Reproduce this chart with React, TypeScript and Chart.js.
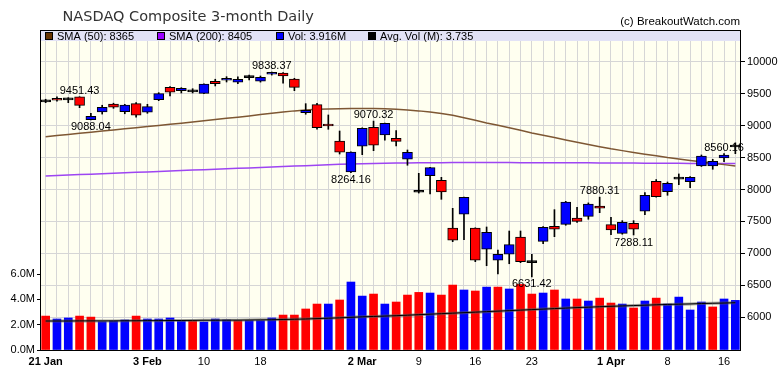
import React, { useEffect, useRef } from 'react';
import { Chart, registerables } from 'chart.js';

Chart.register(...registerables);

const dates = [
  '2020-01-21', '2020-01-22', '2020-01-23', '2020-01-24', '2020-01-27', '2020-01-28', '2020-01-29', '2020-01-30', '2020-01-31',
  '2020-02-03', '2020-02-04', '2020-02-05', '2020-02-06', '2020-02-07', '2020-02-10', '2020-02-11', '2020-02-12', '2020-02-13', '2020-02-14',
  '2020-02-18', '2020-02-19', '2020-02-20', '2020-02-21', '2020-02-24', '2020-02-25', '2020-02-26', '2020-02-27', '2020-02-28',
  '2020-03-02', '2020-03-03', '2020-03-04', '2020-03-05', '2020-03-06', '2020-03-09', '2020-03-10', '2020-03-11', '2020-03-12', '2020-03-13',
  '2020-03-16', '2020-03-17', '2020-03-18', '2020-03-19', '2020-03-20', '2020-03-23', '2020-03-24', '2020-03-25', '2020-03-26', '2020-03-27',
  '2020-03-30', '2020-03-31', '2020-04-01', '2020-04-02', '2020-04-03', '2020-04-06', '2020-04-07', '2020-04-08', '2020-04-09',
  '2020-04-13', '2020-04-14', '2020-04-15', '2020-04-16', '2020-04-17',
];

const opens = [9375, 9427, 9405, 9448, 9092, 9213, 9335, 9218, 9343, 9208, 9405, 9599, 9546, 9532, 9505, 9693, 9709, 9678, 9753, 9693, 9803, 9823, 9729, 9202, 9327, 9025, 8759, 8274, 8676, 8973, 8853, 8801, 8473, 7962, 8216, 8144, 7397, 7612, 7397, 7064, 6892, 6986, 7257, 6862, 7189, 7424, 7455, 7554, 7580, 7742, 7449, 7314, 7471, 7659, 8128, 7966, 8168, 8122, 8368, 8368, 8493, 8668];
const highs = [9412, 9448, 9437, 9451.43, 9190, 9318, 9350, 9333, 9358, 9333, 9515, 9609, 9593, 9577, 9655, 9725, 9765, 9761, 9790, 9776, 9838.37, 9830, 9740, 9343, 9349, 9166, 8915, 8590, 8965, 9070.32, 9040, 8920, 8618, 8253, 8345, 8190, 7705, 7880, 7400, 7413, 7050, 7350, 7350, 6986, 7420, 7684, 7815, 7722, 7790, 7880.31, 7565, 7512, 7512, 7950, 8155, 8117, 8243, 8200, 8540, 8472, 8560.16, 8730];
const lows = [9358, 9380, 9358, 9280, 9088.04, 9180, 9270, 9185, 9130, 9192, 9390, 9463, 9510, 9510, 9500, 9620, 9682, 9656, 9714, 9680, 9790, 9662, 9546, 9177, 8942, 8942, 8555, 8264.16, 8545, 8607, 8770, 8681, 8379, 7944, 7930, 7846, 7183, 7214, 6870, 6807, 6680, 6838, 6855, 6631.42, 7150, 7261, 7440, 7486, 7534, 7637, 7293, 7300, 7288.11, 7606, 7880, 7909, 8075, 8028, 8360, 8316, 8435, 8560];
const closes = [9371, 9396, 9402, 9315, 9145, 9285, 9288, 9322, 9161, 9296, 9499, 9521, 9584, 9528, 9651, 9656, 9740, 9725, 9750, 9756, 9834, 9776, 9599, 9239, 8967, 8994, 8582, 8585, 8958, 8692, 9036, 8754, 8582, 7956, 8341, 7961, 7205, 7878, 6892, 7330, 6986, 7136, 6870, 6855, 7408, 7377, 7804, 7502, 7773, 7706, 7366, 7486, 7377, 7909, 7887, 8097, 8162, 8191, 8524, 8441, 8540, 8665];
const prevClose = 9388.97;

// volume in millions
const volumes = [2.68, 2.45, 2.53, 2.68, 2.60, 2.24, 2.29, 2.37, 2.68, 2.45, 2.45, 2.53, 2.32, 2.32, 2.21, 2.45, 2.37, 2.32, 2.32, 2.32, 2.53, 2.76, 2.76, 3.24, 3.63, 3.63, 3.95, 5.37, 4.26, 4.42, 3.63, 3.79, 4.34, 4.55, 4.50, 4.34, 5.13, 4.74, 4.66, 4.97, 4.97, 4.82, 5.18, 4.42, 4.50, 4.74, 4.03, 4.03, 3.87, 4.10, 3.71, 3.63, 3.32, 3.87, 4.10, 3.63, 4.18, 3.16, 3.79, 3.40, 4.03, 3.92];
const avgVolume = [2.29, 2.29, 2.29, 2.30, 2.30, 2.30, 2.30, 2.31, 2.31, 2.32, 2.32, 2.33, 2.33, 2.34, 2.35, 2.35, 2.36, 2.36, 2.37, 2.38, 2.39, 2.41, 2.43, 2.45, 2.48, 2.51, 2.54, 2.58, 2.62, 2.65, 2.68, 2.71, 2.75, 2.79, 2.83, 2.87, 2.91, 2.95, 2.99, 3.03, 3.07, 3.11, 3.15, 3.19, 3.23, 3.27, 3.31, 3.35, 3.38, 3.42, 3.45, 3.48, 3.51, 3.54, 3.57, 3.60, 3.62, 3.64, 3.67, 3.69, 3.71, 3.735];
const sma50 = [8826, 8843, 8861, 8879, 8896, 8914, 8931, 8949, 8966, 8984, 9002, 9020, 9038, 9056, 9075, 9094, 9113, 9132, 9151, 9172, 9193, 9212, 9230, 9244, 9254, 9260, 9264, 9266, 9267, 9266, 9262, 9254, 9243, 9230, 9212, 9188, 9161, 9123, 9083, 9040, 9005, 8966, 8927, 8885, 8848, 8812, 8775, 8740, 8705, 8670, 8636, 8608, 8580, 8553, 8526, 8499, 8477, 8455, 8433, 8411, 8389, 8368];
const sma200 = [8212, 8219, 8226, 8233, 8240, 8247, 8254, 8261, 8268, 8275, 8282, 8289, 8296, 8303, 8310, 8317, 8324, 8331, 8338, 8345, 8352, 8359, 8366, 8373, 8380, 8387, 8393, 8398, 8403, 8407, 8411, 8414, 8416, 8418, 8419, 8420, 8421, 8421, 8421, 8421, 8421, 8421, 8420, 8420, 8419, 8419, 8418, 8418, 8417, 8416, 8415, 8414, 8413, 8412, 8411, 8410, 8409, 8408, 8407, 8406, 8405, 8405];

const tickIndex = [0, 9, 14, 19, 28, 33, 38, 43, 50, 55, 60];
const tickText = ['21 Jan', '3 Feb', '10', '18', '2 Mar', '9', '16', '23', '1 Apr', '8', '16'];
const tickBold = [true, true, false, false, true, false, false, false, true, false, false];
const priceTicks = [6000, 6500, 7000, 7500, 8000, 8500, 9000, 9500, 10000];
const volumeTicks = [0, 2, 4, 6];

const highLabelIdx = [3, 20, 29, 49, 60];
const lowLabelIdx = [4, 27, 43, 52];

const title = 'NASDAQ Composite 3-month Daily';
const copyright = '(c) BreakoutWatch.com';
const legendTexts = ['SMA (50): 8365', 'SMA (200): 8405', 'Vol: 3.916M', 'Avg. Vol (M): 3.735'];
const legendColors = ['#663300', '#9900ff', '#0000ff', '#000000'];
const legendX = [45, 157, 276, 368];

const UP = '#0000ff';
const DOWN = '#ff0000';
const GRID = '#d6d6d6';
const PLOT_BG = '#fffff0';
const BAND = '#e2e2f6';
const FONT = '"Liberation Sans", Arial, sans-serif';

const decorPlugin = {
  id: 'decor',
  beforeDraw(chart: any) {
    const { ctx, chartArea: a } = chart;
    ctx.save();
    ctx.fillStyle = '#ffffff';
    ctx.fillRect(0, 0, chart.width, chart.height);
    ctx.fillStyle = PLOT_BG;
    ctx.fillRect(a.left, a.top, a.right - a.left, a.bottom - a.top);
    ctx.restore();
  },
  beforeDatasetsDraw(chart: any) {
    const { ctx, chartArea: a } = chart;
    ctx.save();
    ctx.fillStyle = BAND;
    ctx.fillRect(a.left, a.top, a.right - a.left, 10);
    ctx.restore();
  },
  afterDraw(chart: any) {
    const { ctx, chartArea: a } = chart;
    const xs = chart.scales.x;
    const ys = chart.scales.y;
    ctx.save();
    // border
    ctx.strokeStyle = '#000';
    ctx.lineWidth = 1;
    const x0 = Math.round(a.left) + 0.5;
    const x1 = Math.round(a.right) - 0.5;
    const y0 = Math.round(a.top) - 0.5;
    const y1 = Math.round(a.bottom) + 0.5;
    ctx.strokeRect(x0, y0, x1 - x0, y1 - y0);

    // title
    ctx.fillStyle = '#333333';
    ctx.font = '14.5px "DejaVu Sans", sans-serif';
    ctx.textAlign = 'left';
    ctx.textBaseline = 'alphabetic';
    ctx.fillText(title, 62.5, 21);

    ctx.fillStyle = '#000';
    ctx.font = '11.5px ' + FONT;
    ctx.textAlign = 'right';
    ctx.fillText(copyright, 740, 25);

    // legend
    ctx.font = '11px ' + FONT;
    ctx.textAlign = 'left';
    for (let i = 0; i < legendTexts.length; i++) {
      const lx = legendX[i];
      ctx.fillStyle = legendColors[i];
      ctx.fillRect(lx, 32, 8, 8);
      ctx.strokeStyle = '#000';
      ctx.strokeRect(lx + 0.5, 32.5, 7, 7);
      ctx.fillStyle = '#000';
      ctx.fillText(legendTexts[i], lx + 12, 39.5);
    }

    // high / low annotations
    ctx.font = '11px ' + FONT;
    ctx.textAlign = 'center';
    ctx.fillStyle = '#000';
    ctx.textBaseline = 'alphabetic';
    for (const i of highLabelIdx) {
      const px = xs.getPixelForValue(i);
      const py = ys.getPixelForValue(highs[i]);
      ctx.fillText(highs[i].toFixed(2), px, py - 3);
    }
    ctx.textBaseline = 'top';
    for (const i of lowLabelIdx) {
      const px = xs.getPixelForValue(i);
      const py = ys.getPixelForValue(lows[i]);
      ctx.fillText(lows[i].toFixed(2), px, py + 2);
    }
    ctx.restore();
  },
};

export default function App() {
  const canvasRef = useRef<HTMLCanvasElement | null>(null);

  useEffect(() => {
    document.body.style.margin = '0';
    const canvas = canvasRef.current;
    if (!canvas) return;

    const bodies = opens.map((o, i) => [o, closes[i]]);
    const wicks = lows.map((l, i) => [l, highs[i]]);
    const bodyColors = opens.map((o, i) => {
      const c = closes[i];
      if (Math.abs(c - o) < 15) return '#000000';
      return c > o ? UP : DOWN;
    });
    const volColors = closes.map((c, i) => {
      const p = i === 0 ? prevClose : closes[i - 1];
      return c >= p ? UP : DOWN;
    });
    const labelAt = (i: number) => {
      const k = tickIndex.indexOf(i);
      return k >= 0 ? tickText[k] : '';
    };
    const boldAt = (i: number) => {
      const k = tickIndex.indexOf(i);
      return k >= 0 ? tickBold[k] : false;
    };

    const chart = new Chart(canvas, {
      type: 'bar',
      data: {
        labels: dates,
        datasets: [
          {
            type: 'bar',
            label: 'Body',
            data: bodies as any,
            yAxisID: 'y',
            grouped: false,
            barThickness: 10,
            minBarLength: 2,
            backgroundColor: bodyColors,
            borderColor: '#000',
            borderWidth: 1,
            borderSkipped: false,
            order: 1,
          } as any,
          {
            type: 'bar',
            label: 'Wick',
            data: wicks as any,
            yAxisID: 'y',
            grouped: false,
            barThickness: 1,
            backgroundColor: '#000',
            borderWidth: 0,
            order: 2,
          } as any,
          {
            type: 'line',
            label: 'SMA (50)',
            data: sma50,
            yAxisID: 'y',
            borderColor: '#7e5733',
            borderWidth: 1.5,
            pointRadius: 0,
            tension: 0,
            order: 3,
          } as any,
          {
            type: 'line',
            label: 'SMA (200)',
            data: sma200,
            yAxisID: 'y',
            borderColor: '#9d45f2',
            borderWidth: 1.5,
            pointRadius: 0,
            tension: 0,
            order: 4,
          } as any,
          {
            type: 'line',
            label: 'Avg Vol',
            data: avgVolume,
            yAxisID: 'yv',
            borderColor: '#000',
            borderWidth: 1,
            pointRadius: 0,
            tension: 0,
            order: 5,
          } as any,
          {
            type: 'line',
            label: 'Avg Vol shadow',
            data: avgVolume,
            yAxisID: 'yv',
            borderColor: 'rgba(90,90,90,0.55)',
            borderWidth: 3,
            pointRadius: 0,
            tension: 0,
            order: 6,
          } as any,
          {
            type: 'bar',
            label: 'Volume',
            data: volumes,
            yAxisID: 'yv',
            grouped: false,
            barThickness: 8,
            backgroundColor: volColors,
            borderWidth: 0,
            order: 7,
          } as any,
        ],
      },
      options: {
        responsive: false,
        maintainAspectRatio: false,
        animation: false,
        devicePixelRatio: 1,
        events: [],
        layout: { padding: { top: 31, left: 0, right: 0, bottom: 0 } },
        plugins: {
          legend: { display: false },
          tooltip: { enabled: false },
          title: { display: false },
        },
        scales: {
          x: {
            type: 'category',
            offset: true,
            grid: { offset: false, color: GRID, drawTicks: false, lineWidth: 1 },
            border: { display: false },
            ticks: {
              autoSkip: false,
              maxRotation: 0,
              minRotation: 0,
              padding: 5,
              color: '#000',
              font: (c: any) => ({ family: FONT, size: 11, weight: boldAt(c.index) ? 'bold' : 'normal' }),
              callback: (_v: any, i: number) => labelAt(i),
            },
            afterFit: (s: any) => {
              s.height = 26;
            },
          } as any,
          y: {
            type: 'linear',
            position: 'right',
            min: 5488,
            max: 10480,
            afterBuildTicks: (s: any) => {
              s.ticks = priceTicks.map((v) => ({ value: v }));
            },
            grid: { color: GRID, tickColor: '#000', tickLength: 4, drawTicks: true },
            border: { display: false },
            ticks: {
              color: '#000',
              padding: 2,
              font: { family: FONT, size: 11 },
              callback: (v: any) => String(v),
            },
            afterFit: (s: any) => {
              s.width = 39;
            },
          } as any,
          yv: {
            type: 'linear',
            position: 'left',
            min: 0,
            max: 25.2,
            afterBuildTicks: (s: any) => {
              s.ticks = volumeTicks.map((v) => ({ value: v }));
            },
            grid: { drawOnChartArea: false, tickColor: '#000', tickLength: 3, drawTicks: true },
            border: { display: false },
            ticks: {
              color: '#000',
              padding: 2,
              font: { family: FONT, size: 11 },
              callback: (v: any) => Number(v).toFixed(1) + 'M',
            },
            afterFit: (s: any) => {
              s.width = 40;
            },
          } as any,
        },
      },
      plugins: [decorPlugin],
    });

    return () => {
      chart.destroy();
    };
  }, []);

  return (
    <div style={{ width: 780, height: 376, position: 'relative' }}>
      <canvas ref={canvasRef} width={780} height={376} style={{ width: 780, height: 376, display: 'block' }} />
    </div>
  );
}
